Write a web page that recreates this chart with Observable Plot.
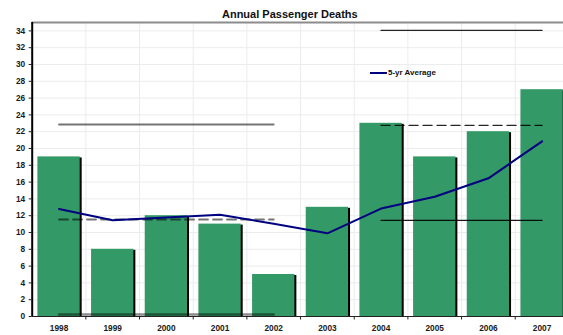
<!DOCTYPE html>
<html>
<head>
<meta charset="utf-8">
<script src="https://cdn.jsdelivr.net/npm/d3@7"></script>
<script src="https://cdn.jsdelivr.net/npm/@observablehq/plot@0.6"></script>
<style>
  body { margin: 0; background: #fff; }
  #chart { position: relative; width: 563px; height: 335px; overflow: hidden; }
  #chart svg { display: block; }
  .legend {
    position: absolute; left: 370px; top: 68px;
    font: bold 8px "Liberation Sans", Arial, sans-serif; color: #111;
    display: flex; align-items: center; white-space: nowrap;
  }
  .legend .swatch { display: inline-block; width: 17px; height: 2px; background: #000080; margin-right: 1px; }
</style>
</head>
<body>
<div id="chart"></div>
<script>
// Annual passenger deaths, 1998–2007
const title = "Annual Passenger Deaths";
const years = [1998, 1999, 2000, 2001, 2002, 2003, 2004, 2005, 2006, 2007];
const deaths = [19, 8, 12, 11, 5, 13, 23, 19, 22, 27];
const fiveYearAvg = [12.8, 11.45, 11.8, 12.1, 11.05, 9.9, 12.85, 14.25, 16.45, 20.85];
const legendLabel = "5-yr Average";

// Control bands for the two periods: mean with upper and lower limits
const periodStart = [1998, 2004];
const periodEnd = [2002, 2007];
const periodMean = [11.55, 22.75];
const periodUpper = [22.86, 34.06];
const periodLower = [0.24, 11.44];

const yTicks = d3.range(0, 35, 2);
const yMax = 35;

const W = 563, H = 335;
const mTop = 22, mBottom = 19, mLeft = 31.7;
const xRange = [mLeft, 568.4];
const step = (xRange[1] - xRange[0]) / years.length;
const pxPerUnit = (H - mBottom - mTop) / yMax;
const tickLen = 3.5 / pxPerUnit;

const rows = years.map((year, i) => ({year, deaths: deaths[i], avg: fiveYearAvg[i]}));

// Segment data for the limit lines of each period
function segments(values) {
  return periodStart.flatMap((s, i) => [
    {year: s, v: values[i], p: i},
    {year: periodEnd[i], v: values[i], p: i}
  ]);
}
const means = segments(periodMean);
const uppers = segments(periodUpper);
const lowers = segments(periodLower);

const font = '"Liberation Sans", Arial, sans-serif';

const chart = Plot.plot({
  width: W,
  height: H,
  marginTop: mTop,
  marginBottom: mBottom,
  marginLeft: mLeft,
  marginRight: 0,
  style: {fontFamily: font, fontWeight: "bold", fontSize: "8.3px", color: "#1a1a1a", background: "#fff", overflow: "visible"},
  x: {type: "band", domain: years, range: xRange, paddingInner: 0.212, paddingOuter: 0.106, round: false},
  y: {domain: [0, yMax]},
  marks: [
    // light gridlines
    Plot.ruleY(yTicks.filter(d => d > 0), {stroke: "#ececec", strokeWidth: 1}),
    Plot.ruleX(years.slice(1), {dx: -step / 2, stroke: "#ececec", strokeWidth: 1}),
    // top border of the plot area
    Plot.ruleY([yMax], {stroke: "#8c8c8c", strokeWidth: 2}),
    // bar shadows, then bars
    Plot.barY(rows, {x: "year", y: "deaths", fill: "#000", dx: 2, dy: 1}),
    Plot.barY(rows, {x: "year", y: "deaths", fill: "#339966"}),
    // limit lines
    Plot.line(uppers.filter(d => d.p === 0), {x: "year", y: "v", stroke: "#000", strokeOpacity: 0.55, strokeWidth: 1.8}),
    Plot.line(lowers.filter(d => d.p === 0), {x: "year", y: "v", stroke: "#000", strokeOpacity: 0.45, strokeWidth: 2.5}),
    Plot.line(means.filter(d => d.p === 0), {x: "year", y: "v", stroke: "#000", strokeOpacity: 0.55, strokeWidth: 1.8, strokeDasharray: "9,5"}),
    Plot.line(uppers.filter(d => d.p === 1), {x: "year", y: "v", stroke: "#000", strokeOpacity: 0.85, strokeWidth: 1.3}),
    Plot.line(lowers.filter(d => d.p === 1), {x: "year", y: "v", stroke: "#000", strokeOpacity: 0.9, strokeWidth: 1.2}),
    Plot.line(means.filter(d => d.p === 1), {x: "year", y: "v", stroke: "#000", strokeOpacity: 0.85, strokeWidth: 1.3, strokeDasharray: "9,5"}),
    // five-year average
    Plot.line(rows, {x: "year", y: "avg", stroke: "#000080", strokeWidth: 2}),
    // axes
    Plot.ruleX([years[0]], {dx: -step / 2, stroke: "#000", strokeWidth: 2}),
    Plot.ruleY([0], {stroke: "#222", strokeWidth: 1.2}),
    Plot.ruleX(years.slice(1), {dx: -step / 2, y1: 0, y2: -tickLen, stroke: "#222", strokeWidth: 1}),
    Plot.axisY({ticks: yTicks, tickSize: 3, tickPadding: 4, tickFormat: d => String(d), label: null, stroke: "#222"}),
    Plot.axisX({tickSize: 0, tickPadding: 9, tickFormat: d => String(d), label: null}),
    // title
    Plot.text([title], {frameAnchor: "top", dx: -8, dy: -12, fontSize: 11, fontWeight: "bold", fill: "#111"})
  ]
});

const host = document.getElementById("chart");
host.appendChild(chart);
const legend = document.createElement("div");
legend.className = "legend";
legend.innerHTML = `<span class="swatch"></span><span></span>`;
legend.lastChild.textContent = legendLabel;
host.appendChild(legend);
</script>
</body>
</html>
